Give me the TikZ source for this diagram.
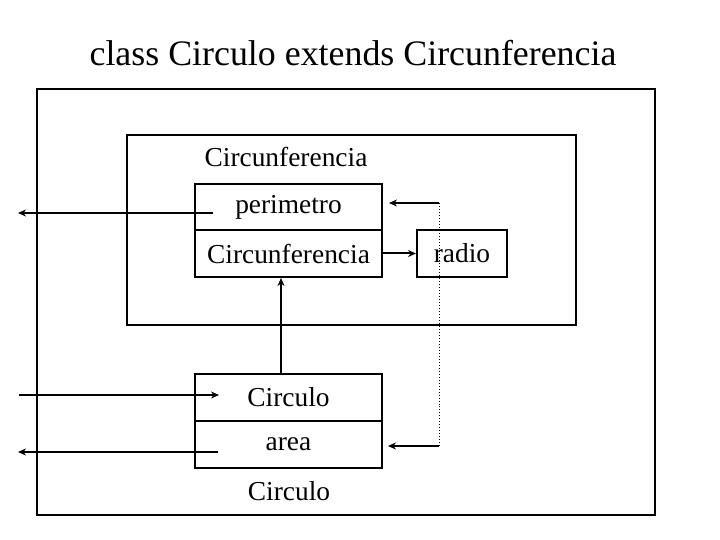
\documentclass[tikz,border=0pt]{standalone}
\usepackage{fontspec}
\setmainfont{Liberation Serif}
\usetikzlibrary{arrows.meta}
\begin{document}
\begin{tikzpicture}[x=1bp,y=-1bp,
  frame/.style={draw=black,line width=2bp},
  box/.style={draw=black,line width=2bp,inner sep=0pt,font=\fontsize{27.5}{30}\selectfont},
  lbl/.style={inner sep=0pt,font=\fontsize{27.5}{30}\selectfont},
  conn/.style={line width=2bp,-{Stealth[length=8bp,width=7bp]}},
  dots/.style={line width=1bp,dotted}]
\useasboundingbox (0,0) rectangle (720,540);
\node[inner sep=0pt,font=\fontsize{36}{40}\selectfont] (title) at (353,53) {class Circulo extends Circunferencia};
\draw[frame] (37,89) rectangle (655,515);
\draw[frame] (127,135) rectangle (576,325);
\node[lbl] (cname) at (286,157) {Circunferencia};
\node[box,minimum width=187bp,minimum height=46bp] (perim) at (288.5,207) {perimetro};
\node[box,minimum width=187bp,minimum height=47bp] (circf) at (288.5,253.5) {Circunferencia};
\node[box,minimum width=90bp,minimum height=47bp] (radio) at (462,253.5) {radio};
\node[box,minimum width=187bp,minimum height=47bp] (circ) at (288.5,397.5) {Circulo};
\node[box,minimum width=187bp,minimum height=47bp] (area) at (288.5,444.5) {area};
\node[lbl] (cname2) at (289,491) {Circulo};
% connectors
\coordinate (pin) at (213,213);
\coordinate (pout) at (18,213);
\draw[conn] (pin) -- (pout);
\coordinate (cin) at (19,395);
\coordinate (cend) at (219,395);
\draw[conn] (cin) -- (cend);
\coordinate (ain) at (218,452);
\coordinate (aout) at (18,452);
\draw[conn] (ain) -- (aout);
\draw[conn] (circf.east) -- (radio.west);
\draw[conn] (circ.north -| 281,0) -- (circf.south -| 281,0);
\coordinate (d1) at (439,203);
\coordinate (d2) at (439,446);
\coordinate (d1e) at (389,203);
\coordinate (d2e) at (388,446);
\draw[dots] (d1) -- (d2);
\draw[conn] (d1) -- (d1e);
\draw[conn] (d2) -- (d2e);
\end{tikzpicture}
\end{document}
